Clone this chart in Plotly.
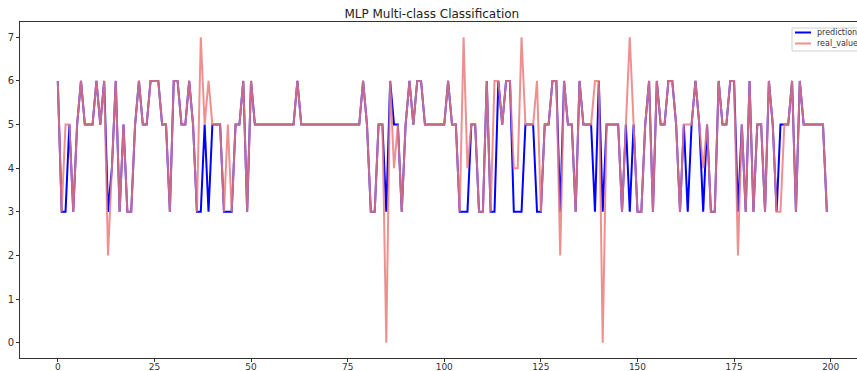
import plotly.graph_objects as go

x_index = list(range(200))

prediction = [
    6, 3, 3, 5, 3, 5, 6, 5, 5, 5,
    6, 5, 6, 3, 4, 6, 3, 5, 3, 3,
    5, 6, 5, 5, 6, 6, 6, 5, 5, 3,
    6, 6, 5, 5, 6, 5, 3, 3, 5, 3,
    5, 5, 5, 3, 3, 3, 5, 5, 6, 3,
    6, 5, 5, 5, 5, 5, 5, 5, 5, 5,
    5, 5, 6, 5, 5, 5, 5, 5, 5, 5,
    5, 5, 5, 5, 5, 5, 5, 5, 5, 6,
    5, 3, 3, 5, 5, 3, 6, 5, 5, 3,
    5, 6, 5, 6, 6, 5, 5, 5, 5, 5,
    5, 6, 5, 5, 3, 3, 3, 5, 5, 3,
    3, 6, 3, 3, 6, 5, 6, 6, 3, 3,
    3, 5, 5, 5, 3, 3, 5, 5, 6, 6,
    3, 6, 5, 5, 3, 6, 5, 5, 5, 3,
    6, 3, 5, 5, 5, 5, 3, 5, 3, 5,
    3, 3, 5, 6, 3, 6, 5, 5, 6, 6,
    5, 3, 5, 3, 5, 6, 5, 3, 5, 3,
    3, 6, 5, 5, 6, 6, 3, 5, 3, 6,
    3, 5, 5, 3, 6, 5, 3, 5, 5, 5,
    6, 3, 6, 5, 5, 5, 5, 5, 5, 3,
]

real_values = [
    6, 3, 5, 5, 3, 5, 6, 5, 5, 5,
    6, 5, 6, 2, 4, 6, 3, 5, 3, 3,
    5, 6, 5, 5, 6, 6, 6, 5, 5, 3,
    6, 6, 5, 5, 6, 5, 3, 7, 5, 6,
    5, 5, 5, 3, 5, 3, 5, 5, 6, 3,
    6, 5, 5, 5, 5, 5, 5, 5, 5, 5,
    5, 5, 6, 5, 5, 5, 5, 5, 5, 5,
    5, 5, 5, 5, 5, 5, 5, 5, 5, 6,
    5, 3, 3, 5, 5, 0, 6, 4, 5, 3,
    5, 6, 5, 6, 6, 5, 5, 5, 5, 5,
    5, 6, 5, 5, 3, 7, 4, 5, 5, 3,
    3, 6, 3, 6, 6, 5, 6, 6, 4, 4,
    7, 5, 5, 5, 6, 3, 5, 5, 6, 6,
    2, 6, 5, 5, 3, 6, 5, 5, 5, 6,
    6, 0, 5, 5, 5, 5, 3, 5, 7, 5,
    3, 3, 5, 6, 3, 6, 5, 5, 6, 6,
    5, 3, 5, 5, 5, 6, 5, 4, 5, 3,
    3, 6, 5, 5, 6, 6, 2, 5, 3, 6,
    3, 5, 5, 3, 6, 5, 3, 3, 5, 5,
    6, 3, 6, 5, 5, 5, 5, 5, 5, 3,
]

x_ticks = [0, 25, 50, 75, 100, 125, 150, 175, 200]
y_ticks = [0, 1, 2, 3, 4, 5, 6, 7]
series_names = ["prediction", "real_values"]
series_colors = ["#0000ff", "rgba(235,125,125,0.85)"]

W, H = 857, 371
ML, MR, MT, MB = 20, 0, 22, 13
PW, PH = W - ML - MR, H - MT - MB


def px_to_paper(px, py):
    return (px - ML) / PW, (H - MB - py) / PH


fig = go.Figure()
for name, vals, col in zip(series_names, [prediction, real_values], series_colors):
    fig.add_trace(go.Scatter(
        x=x_index, y=vals, mode="lines", name=name,
        line=dict(color=col, width=2), showlegend=False,
    ))

# custom legend (matplotlib-style, compact)
shapes = []
annotations = []
bx0, by0 = px_to_paper(792, 28)
bx1, by1 = px_to_paper(870, 51)
shapes.append(dict(type="rect", xref="paper", yref="paper", x0=bx0, y0=by1,
                   x1=bx1, y1=by0, fillcolor="white",
                   line=dict(color="#d0d0d0", width=1), layer="above"))
for k, (name, col) in enumerate(zip(series_names, series_colors)):
    ypix = 32.5 + k * 11
    lx0, ly = px_to_paper(795, ypix)
    lx1, _ = px_to_paper(811, ypix)
    shapes.append(dict(type="line", xref="paper", yref="paper", x0=lx0, x1=lx1,
                       y0=ly, y1=ly, line=dict(color=col, width=2), layer="above"))
    tx, _ = px_to_paper(815, ypix)
    annotations.append(dict(text=name, xref="paper", yref="paper", x=tx, y=ly,
                            xanchor="left", yanchor="middle", showarrow=False,
                            font=dict(family="DejaVu Sans", size=8, color="#333333")))

axis_font = dict(family="DejaVu Sans", size=10, color="#333333")
fig.update_layout(
    width=W, height=H,
    margin=dict(l=ML, r=MR, t=MT, b=MB, autoexpand=False),
    paper_bgcolor="white", plot_bgcolor="white",
    font=dict(family="DejaVu Sans", color="#222222"),
    title=dict(text="MLP Multi-class Classification", x=0.492, xref="paper",
               xanchor="center", y=1 - 14 / 371, yref="container",
               yanchor="middle", font=dict(size=12, color="#222222")),
    showlegend=False,
    shapes=shapes,
    annotations=annotations,
    xaxis=dict(range=[-9.78, 206.8], tickvals=x_ticks,
               ticktext=[str(t) for t in x_ticks], showgrid=False,
               zeroline=False, showline=True, linecolor="#333333",
               linewidth=1, mirror=True, ticks="outside", ticklen=3,
               tickcolor="#333333", tickfont=dict(family="DejaVu Sans", size=9, color="#333333"),
               automargin=False, ticklabelstandoff=-3),
    yaxis=dict(range=[-0.35, 7.35], tickvals=y_ticks,
               ticktext=[str(t) for t in y_ticks], showgrid=False,
               zeroline=False, showline=True, linecolor="#333333",
               linewidth=1, mirror=True, ticks="outside", ticklen=3,
               tickcolor="#333333", tickfont=axis_font, automargin=False),
)

fig.write_html("out.html")
